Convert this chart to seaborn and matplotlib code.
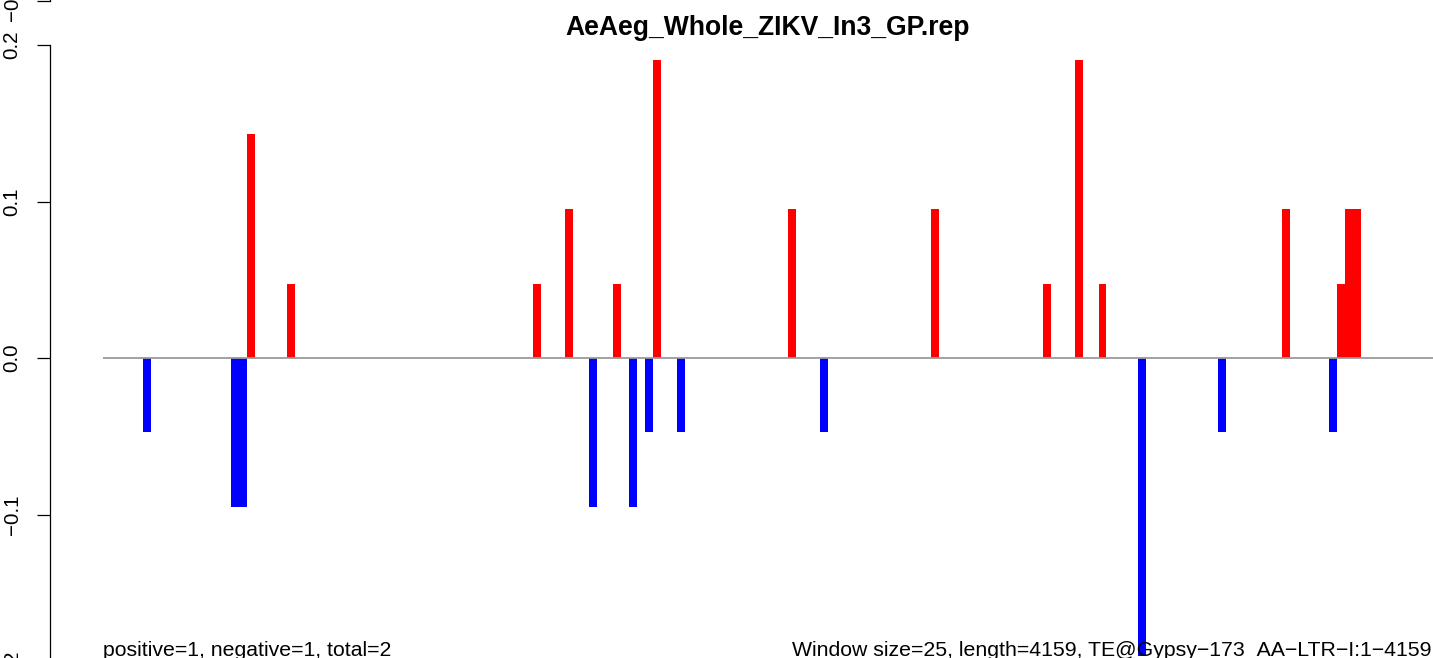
import numpy as np
import pandas as pd
import matplotlib
matplotlib.use("Agg")
import matplotlib.pyplot as plt
import seaborn as sns

sns.set_style("white")
plt.rcParams["font.family"] = ["Liberation Sans", "DejaVu Sans"]
plt.rcParams["text.color"] = "black"
plt.rcParams["ytick.color"] = "black"
plt.rcParams["ytick.left"] = True

# ---- data -------------------------------------------------------------
title = "AeAeg_Whole_ZIKV_In3_GP.rep"
n_windows = 167  # length 4159 / window size 25

pos_windows = [18, 23, 54, 58, 64, 69, 86, 104, 118, 122, 125, 148, 155, 156, 157]
pos_scores = [0.1429, 0.0476, 0.0476, 0.0952, 0.0476, 0.1905, 0.0952, 0.0952,
              0.0476, 0.1905, 0.0476, 0.0952, 0.0476, 0.0952, 0.0952]

neg_windows = [5, 16, 17, 61, 66, 68, 72, 90, 130, 140, 154]
neg_scores = [-0.0476, -0.0952, -0.0952, -0.0952, -0.0952, -0.0476, -0.0476,
              -0.0476, -0.1905, -0.0476, -0.0476]

ytick_values = [-0.2, -0.1, 0.0, 0.1, 0.2]
ytick_labels = ["\u22120.2", "\u22120.1", "0.0", "0.1", "0.2"]

left_note = "positive=1, negative=1, total=2"
right_note = "Window size=25, length=4159, TE@Gypsy\u2212173_AA\u2212LTR\u2212I:1\u22124159"

df = pd.DataFrame({
    "window": pos_windows + neg_windows,
    "score": pos_scores + neg_scores,
    "sign": ["pos"] * len(pos_windows) + ["neg"] * len(neg_windows),
})

# ---- layout (pixel geometry of a 1433x658 canvas) -----------------------
W, H, DPI = 1433, 658, 100
fig = plt.figure(figsize=(W / DPI, H / DPI), dpi=DPI)

ax_left_px, ax_right_px = 50, 1433
ax_top_px, ax_bot_px = 0, 700
zero_px, px_per_unit = 358, 1565.0
x0_px, bar_px = 103.5, 7.96

ax = fig.add_axes([ax_left_px / W, 1 - ax_bot_px / H,
                   (ax_right_px - ax_left_px) / W, (ax_bot_px - ax_top_px) / H])

sns.barplot(data=df, x="window", y="score", hue="sign",
            order=list(range(n_windows)), hue_order=["pos", "neg"],
            palette={"pos": "#FF0000", "neg": "#0000FF"}, saturation=1,
            dodge=False, width=1.0, errorbar=None, linewidth=0,
            legend=False, ax=ax)

ax.hlines(0, -0.5, n_windows - 0.5, color="#9a9a9a", linewidth=1.3, zorder=5)

xlo = (ax_left_px - x0_px) / bar_px - 0.5
xhi = (ax_right_px - x0_px) / bar_px - 0.5
ax.set_xlim(xlo, xhi)
ax.set_ylim((zero_px - ax_bot_px) / px_per_unit, (zero_px - ax_top_px) / px_per_unit)

fs = 14.8


def style_yaxis(a, ticks, labels):
    a.set_xticks([])
    a.set_xlabel("")
    a.set_ylabel("")
    a.set_yticks(ticks)
    a.set_yticklabels(labels, rotation=90, va="center", fontsize=fs)
    a.tick_params(axis="y", left=True, length=9.4, width=0.9, pad=11,
                  color="black", labelcolor="black")
    for s in ["top", "right", "bottom"]:
        a.spines[s].set_visible(False)
    a.spines["left"].set_bounds(-0.2, 0.2)
    a.spines["left"].set_linewidth(0.9)
    a.spines["left"].set_color("black")
    a.patch.set_alpha(0)


style_yaxis(ax, ytick_values, ytick_labels)

# lower edge of the neighbouring panel above
ax_up = fig.add_axes([ax_left_px / W, 1 - 1 / H, (ax_right_px - ax_left_px) / W, 0.5])
ax_up.set_ylim(-0.2, 0.2)
style_yaxis(ax_up, [-0.2], ["\u22120.2"])

# ---- text -------------------------------------------------------------
fig.text(768 / W, 1 - 35 / H, title, ha="center", va="baseline",
         fontsize=19.1, fontweight="bold", color="black")
fig.text(103 / W, 1 - 656 / H, left_note, ha="left", va="baseline",
         fontsize=15.3, color="black")
fig.text(1431 / W, 1 - 656 / H, right_note, ha="right", va="baseline",
         fontsize=15.3, color="black")

fig.savefig("out.png", dpi=DPI)
